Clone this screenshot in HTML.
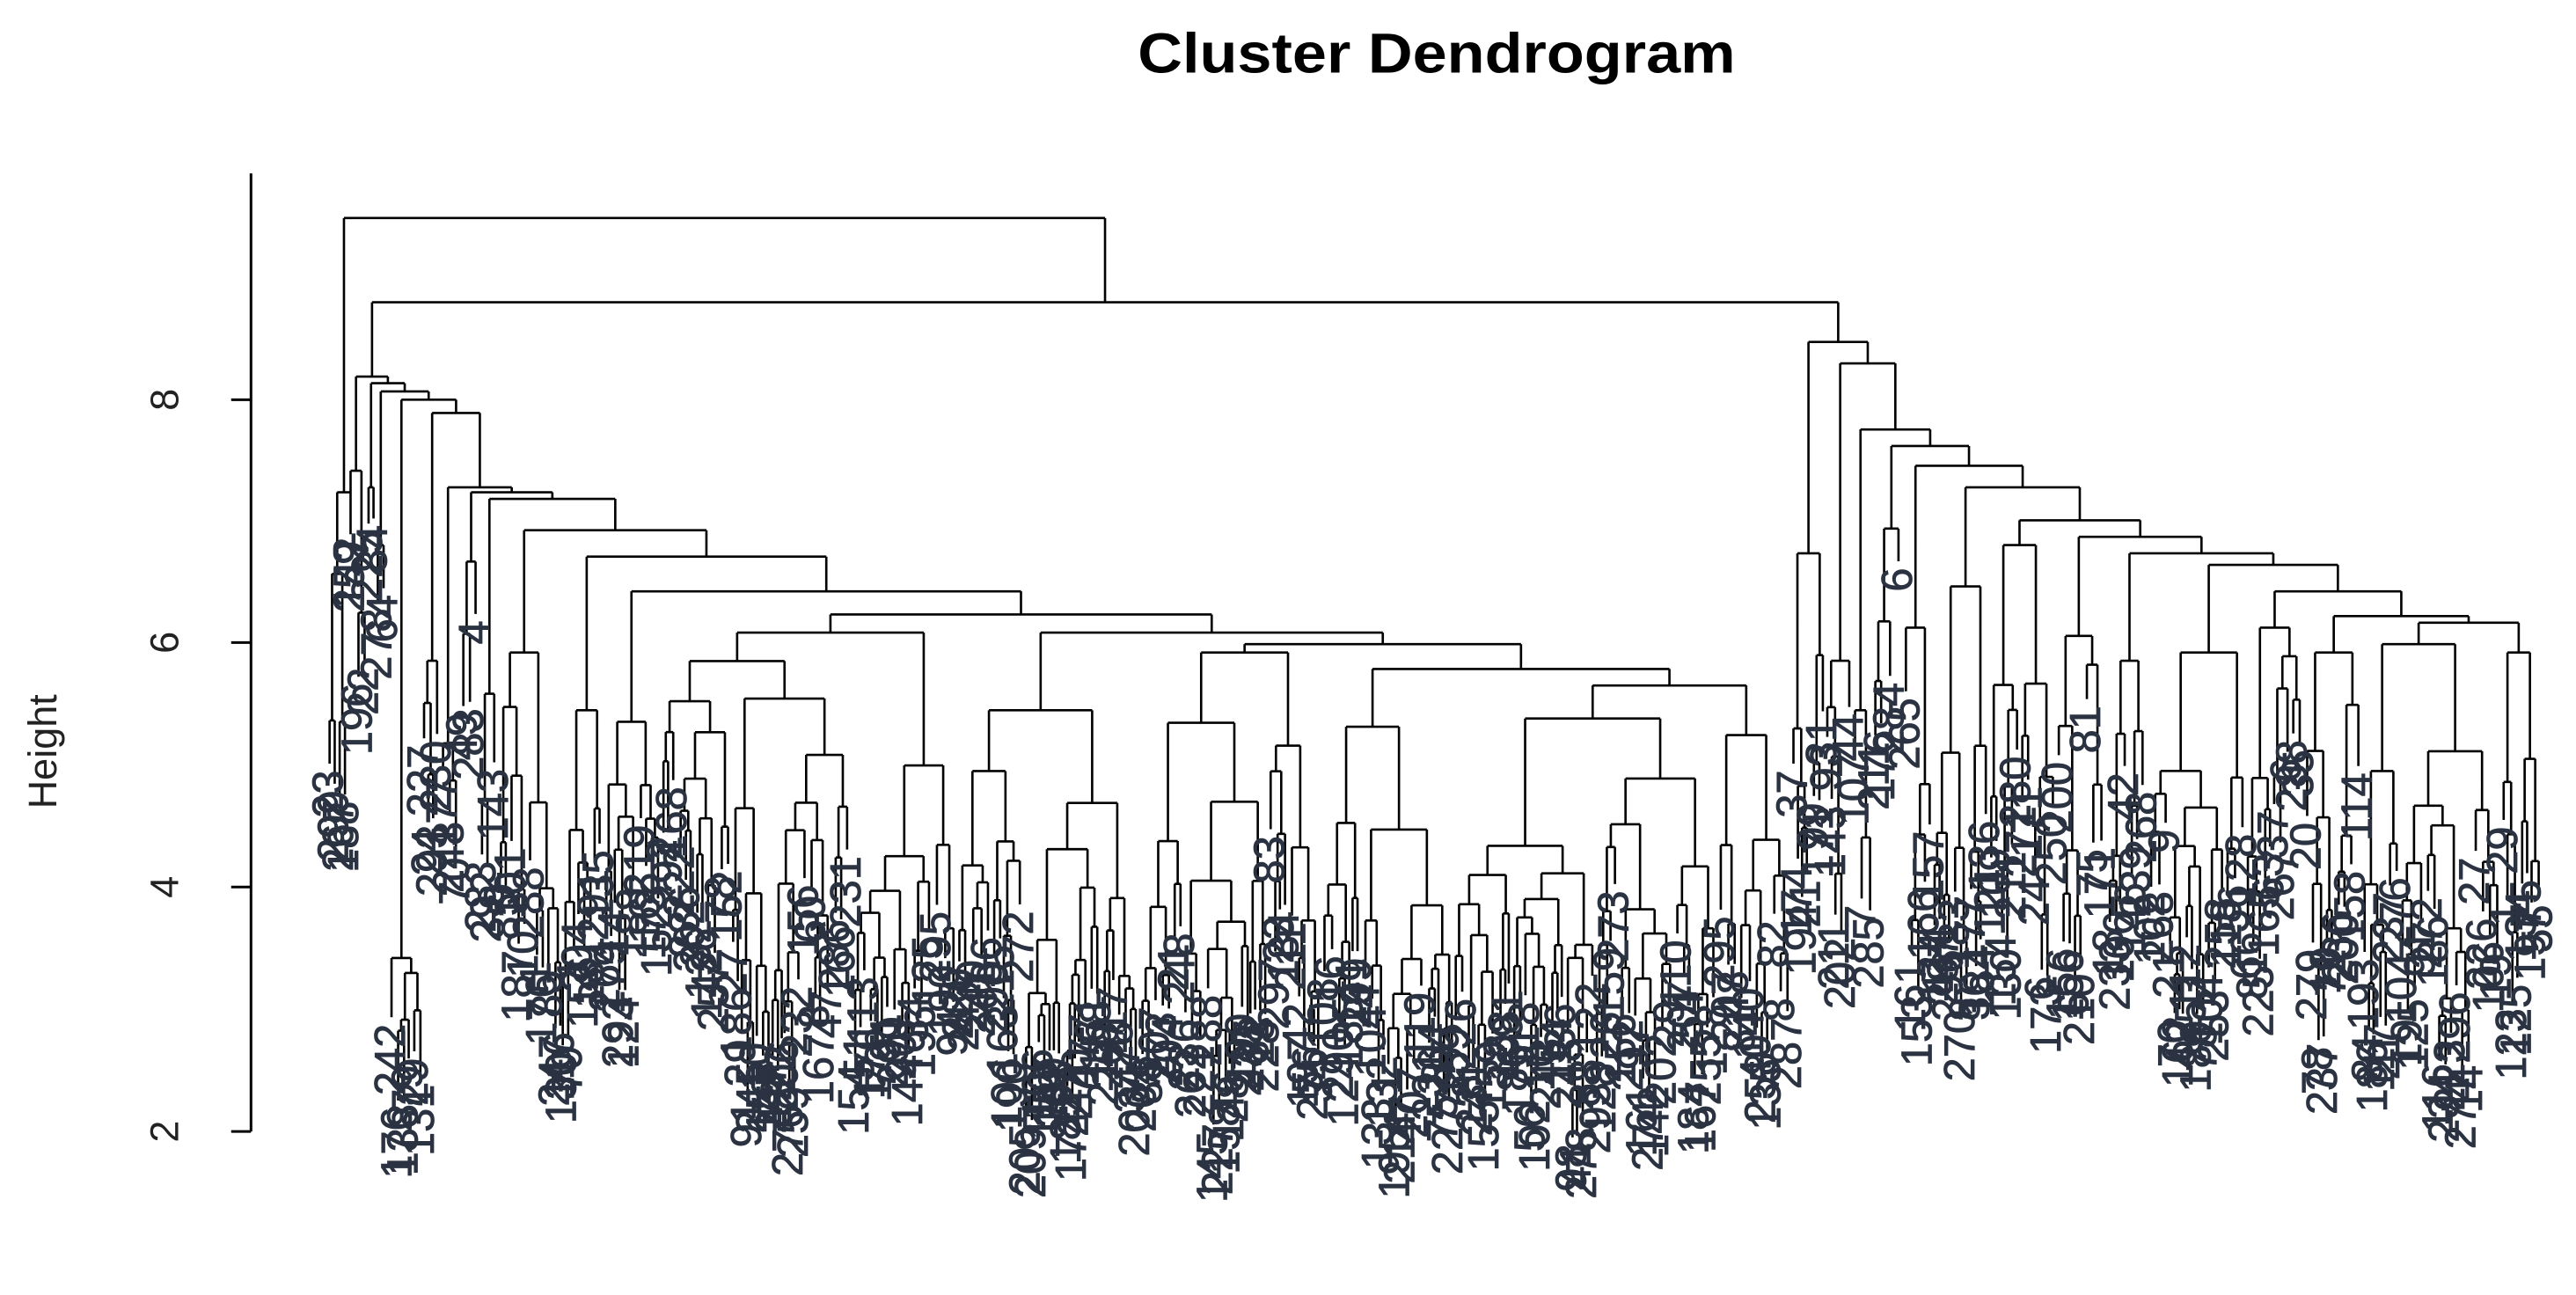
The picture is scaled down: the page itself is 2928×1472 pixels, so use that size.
<!DOCTYPE html>
<html><head><meta charset="utf-8"><style>
html,body{margin:0;padding:0;background:#fff;}
svg{display:block;}
</style></head><body>
<svg id="s" xmlns="http://www.w3.org/2000/svg" width="2928" height="1472" viewBox="0 0 1560 784" preserveAspectRatio="none">
<rect width="1560" height="784" fill="#fff"/>
<text x="870" y="44" text-anchor="middle" font-family="Liberation Sans, sans-serif" font-weight="bold" font-size="34" textLength="362" lengthAdjust="spacingAndGlyphs" fill="#000">Cluster Dendrogram</text>
<g stroke="#000" stroke-width="1.6" fill="none">
<line x1="152" y1="105" x2="152" y2="685"/>
<line x1="140" y1="242" x2="152" y2="242"/>
<line x1="140" y1="389" x2="152" y2="389"/>
<line x1="140" y1="537" x2="152" y2="537"/>
<line x1="140" y1="685" x2="152" y2="685"/>
</g>
<g font-family="Liberation Sans, sans-serif" font-size="24" fill="#222" text-anchor="middle">
<text transform="translate(108,242) rotate(-90)">8</text>
<text transform="translate(108,389) rotate(-90)">6</text>
<text transform="translate(108,537) rotate(-90)">4</text>
<text transform="translate(108,685) rotate(-90)">2</text>
<text transform="translate(34,455) rotate(-90)">Height</text>
</g>
<g id="tree" stroke="#000" stroke-width="1.4" fill="none"></g>
<g id="labels" font-family="Liberation Sans, sans-serif" font-size="26" fill="#2b3342" stroke="#2b3342" stroke-width="0.4" text-anchor="end"></g>
</svg>
<script>
(function(){
var seed=12345;
function rnd(){seed|=0;seed=seed+0x6D2B79F5|0;var t=Math.imul(seed^seed>>>15,1|seed);t=t+Math.imul(t^t>>>7,61|t)^t;return((t^t>>>14)>>>0)/4294967296;}
function R(a,b){return a+(b-a)*rnd();}
var NS="http://www.w3.org/2000/svg";
var tree=document.getElementById("tree"),labs=document.getElementById("labels");
var d="";
function L(x1,y1,x2,y2){d+="M"+x1.toFixed(1)+" "+y1.toFixed(1)+"L"+x2.toFixed(1)+" "+y2.toFixed(1);}
function leaf(x,y){
  var ye=Math.min(y+R(16,45),745);
  var t=document.createElementNS(NS,"text");
  t.setAttribute("transform","translate("+(x+8).toFixed(1)+","+(ye+4).toFixed(1)+") rotate(-90)");
  t.textContent=String(Math.floor(R(1,300)));
  labs.appendChild(t);
  return {cx:x,y:y,ye:ye,leaf:true};
}
function gen(x0,x1,y){
  if(x1-x0<5.5){return leaf((x0+x1)/2,y);}
  var sp=x0+(x1-x0)*R(0.2,0.8);
  var a=child(x0,sp,y),b=child(sp,x1,y);
  L(a.cx,y,b.cx,y);
  return {cx:(a.cx+b.cx)/2,y:y};
}
function child(x0,x1,y){
  var cy;
  if(x1-x0<5.5){var lf=leaf((x0+x1)/2,y);L(lf.cx,y,lf.cx,lf.ye);return lf;}
  cy=y+(715-y)*R(0.04,0.28)+2;
  var n=gen(x0,x1,cy);
  L(n.cx,y,n.cx,cy);
  return n;
}
function render(spec,parentY){
  var n;
  if(spec.g){n=gen(spec.g[0],spec.g[1],spec.g[2]);}
  else{
    var a=render(spec.c[0],spec.y),b=render(spec.c[1],spec.y);
    L(a.cx,spec.y,b.cx,spec.y);
    n={cx:(a.cx+b.cx)/2,y:spec.y};
  }
  if(parentY!==undefined)L(n.cx,parentY,n.cx,n.y);
  return n;
}
function G(a,b,y){return {g:[a,b,y]};}
function N(y,a,b){return {y:y,c:[a,b]};}
var C13=N(383,G(580,690,430),N(390,G(690,800,395),N(405,G(800,880,440),N(415,G(880,1040,435),G(1040,1085,445)))));
var C=N(228,G(210,222,285),N(232,G(222,228,295),N(237,G(228,235,330),N(242,G(235,256,580),N(250,G(256,266,400),
  N(295,G(266,278,450),N(298,G(278,290,340),N(302,G(290,302,420),N(321,G(302,340,395),N(337,G(340,365,430),
  N(358,G(365,400,437),N(372,G(400,580,383),C13))))))))))));
var D=N(207,G(1085,1105,335),N(220,G(1105,1122,400),N(260,G(1122,1135,430),N(270,G(1135,1152,320),N(282,G(1152,1170,380),
  N(295,G(1170,1205,355),N(315,G(1205,1245,330),N(325,G(1245,1275,385),N(335,G(1275,1300,400),N(342,G(1300,1360,395),
  N(358,G(1360,1395,380),N(373,G(1395,1430,395),N(377,G(1430,1515,390),G(1515,1540,395))))))))))))));
var root=N(132,G(198,214,298),N(183,C,D));
render(root);
var p=document.createElementNS(NS,"path");p.setAttribute("d",d);tree.appendChild(p);
})();
</script>
</body></html>
